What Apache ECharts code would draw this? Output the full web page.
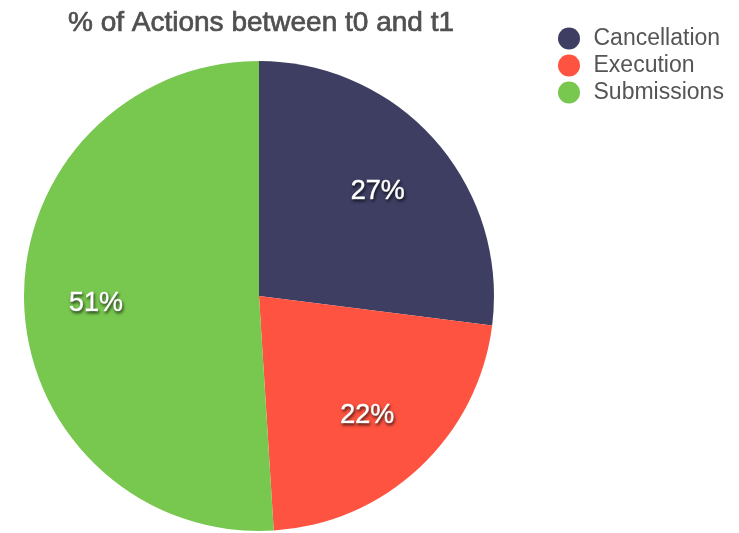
<!DOCTYPE html>
<html>
<head>
<meta charset="utf-8">
<script src="https://cdn.jsdelivr.net/npm/echarts@6/dist/echarts.min.js"></script>
<style>
  html, body { margin: 0; padding: 0; background: #fff; }
  #chart { width: 739px; height: 533px; }
</style>
</head>
<body>
<div id="chart"></div>
<script>
// Share of order-book actions between t0 and t1
const categories = ['Cancellation', 'Execution', 'Submissions'];
const shares = [27, 22, 51];
const colors = ['#3d3e62', '#fd5340', '#78c74f'];

const pieData = categories.map((name, i) => ({ name, value: shares[i] }));

const chart = echarts.init(document.getElementById('chart'));
const FONT = '"Liberation Sans", Arial, Helvetica, sans-serif';

chart.setOption({
  animation: false,
  color: colors,
  title: {
    text: '% of Actions between t0 and t1',
    left: 256,
    textAlign: 'center',
    top: 4,
    textStyle: {
      fontFamily: FONT, fontSize: 28, fontWeight: 'normal', color: '#505050',
      textBorderColor: '#505050', textBorderWidth: 0.7
    }
  },
  legend: {
    orient: 'vertical',
    left: 553,
    top: 22,
    icon: 'circle',
    itemWidth: 23,
    itemHeight: 22,
    itemGap: 4,
    data: categories,
    textStyle: { fontFamily: FONT, fontSize: 23, lineHeight: 22, color: '#555', padding: [0, 0, 0, 8] }
  },
  series: [
    {
      type: 'pie',
      center: [259, 296],
      radius: [0, 235],
      startAngle: 90,
      clockwise: true,
      data: pieData,
      label: { show: false },
      labelLine: { show: false },
      emphasis: { disabled: true }
    },
    {
      // transparent ring that only carries the percentage labels
      type: 'pie',
      center: [257, 298],
      radius: [0, 316],
      startAngle: 90,
      clockwise: true,
      silent: true,
      data: pieData,
      itemStyle: { color: 'rgba(0,0,0,0)' },
      label: {
        show: true,
        position: 'inside',
        formatter: p => p.value + '%',
        fontFamily: FONT,
        fontSize: 27,
        fontWeight: 'normal',
        color: '#fff',
        textBorderColor: '#fff',
        textBorderWidth: 0.6,
        textShadowColor: 'rgba(0,0,0,0.6)',
        textShadowBlur: 3,
        textShadowOffsetX: 1,
        textShadowOffsetY: 2
      },
      labelLine: { show: false },
      emphasis: { disabled: true }
    }
  ]
});
</script>
</body>
</html>
